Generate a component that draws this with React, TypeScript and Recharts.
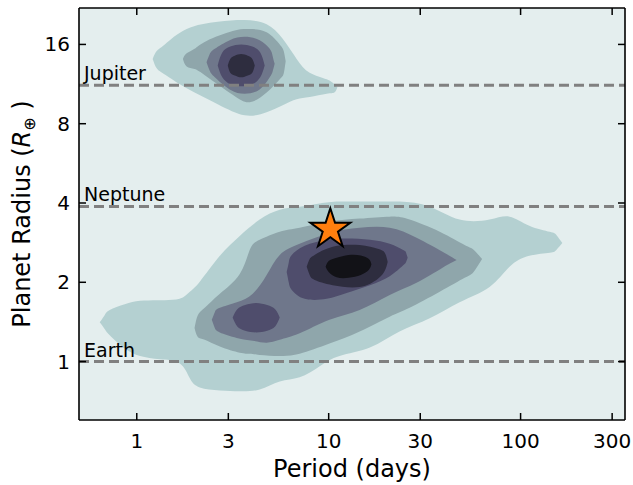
import { Area, CartesianGrid, ComposedChart, Line, ReferenceLine, XAxis, YAxis } from "recharts";

// contour bands, rows are [period, radius low, radius high]
const lightLow = [
	[0.641, 1.41, 1.41], [0.68, 1.33, 1.5], [0.723, 1.26, 1.57], [0.866, 1.12, 1.65],
	[1.04, 1.05, 1.7], [1.32, 1.02, 1.71], [1.67, 0.985, 1.73], [1.89, 0.864, 1.84],
	[2.13, 0.798, 2.01], [2.71, 0.777, 2.52], [3.44, 0.771, 3.0], [4.37, 0.784, 3.46],
	[5.56, 0.841, 3.77], [7.06, 0.871, 3.87], [8.98, 0.96, 3.98], [11.4, 1.05, 4.05],
	[16.4, 1.13, 4.05], [23.4, 1.3, 4.05], [33.6, 1.46, 3.87], [48.1, 1.68, 3.46],
	[68.9, 1.92, 3.46], [87.6, 2.29, 3.55], [111, 2.52, 3.28], [142, 2.59, 3.11],
	[154, 2.66, 3.02], [165, 2.82, 2.82],
];
const light2Low = [
	[2.0, 1.34, 1.34], [2.08, 1.24, 1.5], [2.26, 1.21, 1.6], [2.71, 1.14, 1.81], [3.44, 1.08, 2.15],
	[3.88, 1.07, 2.66], [4.37, 1.06, 2.9], [5.56, 1.05, 3.11], [7.06, 1.07, 3.22],
	[10.1, 1.17, 3.4], [14.5, 1.3, 3.49], [20.8, 1.48, 3.55], [26.4, 1.6, 3.46],
	[37.9, 1.84, 3.11], [51.1, 2.08, 2.77], [56.9, 2.19, 2.66], [63, 2.45, 2.45],
];
const midLow = [
	[2.46, 1.44, 1.44], [2.55, 1.34, 1.54], [2.71, 1.29, 1.6], [3.32, 1.23, 1.68], [4.02, 1.2, 1.81],
	[4.75, 1.18, 2.13], [5.56, 1.21, 2.54], [7.06, 1.28, 2.8], [10.1, 1.44, 3.08],
	[14.5, 1.57, 3.22], [20.8, 1.79, 3.22], [28.7, 1.99, 2.95], [39.2, 2.27, 2.61],
	[46.4, 2.43, 2.43],
];
const purpleLow = [
	[6.04, 2.19, 2.19], [6.2, 1.99, 2.39], [6.42, 1.87, 2.54], [7.5, 1.73, 2.75], [9.76, 1.73, 2.9],
	[12.4, 1.82, 2.93], [16.4, 1.95, 2.9], [20.8, 2.11, 2.8], [24.3, 2.31, 2.66],
	[25.2, 2.37, 2.61], [25.8, 2.48, 2.48],
];
const purpleSmall = [
	[3.16, 1.47, 1.47], [3.34, 1.36, 1.58], [3.67, 1.31, 1.64], [4.19, 1.29, 1.67],
	[4.78, 1.31, 1.64], [5.26, 1.36, 1.58], [5.56, 1.47, 1.47],
];
const darkLow = [
	[7.68, 2.29, 2.29], [7.96, 2.13, 2.45], [8.45, 2.04, 2.54], [10.5, 1.95, 2.73],
	[14.5, 1.92, 2.77], [18.0, 2.06, 2.68], [19.6, 2.21, 2.59], [20.3, 2.39, 2.39],
];
const coreLow = [
	[9.64, 2.29, 2.29], [10.0, 2.19, 2.41], [11.0, 2.09, 2.48], [12.7, 2.08, 2.54],
	[14.7, 2.13, 2.53], [16.2, 2.23, 2.45], [16.7, 2.34, 2.34],
];
const lightHigh = [
	[1.21, 14.1, 14.1], [1.27, 13.0, 15.1], [1.4, 12.3, 16.0], [1.82, 10.9, 18.3], [2.64, 9.48, 19.5],
	[3.65, 8.61, 19.8], [4.75, 8.84, 19.1], [5.76, 9.4, 16.8], [6.81, 9.9, 14.1],
	[7.96, 10.1, 12.5], [9.76, 10.4, 11.8], [10.7, 10.5, 11.3], [11.1, 11.0, 11.0],
];
const light2High = [
	[1.74, 14.1, 14.1], [1.82, 13.2, 14.8], [2.0, 12.9, 15.4], [2.31, 12.1, 16.5], [3.16, 10.3, 18.0],
	[3.88, 9.65, 18.3], [4.75, 10.5, 17.8], [5.56, 11.8, 16.0], [5.83, 12.4, 15.1], [5.97, 13.8, 13.8],
];
const midHigh = [
	[2.31, 13.7, 13.7], [2.4, 12.7, 14.7], [2.55, 12.0, 15.4], [3.05, 10.8, 16.6], [3.65, 10.4, 17.1],
	[4.37, 10.8, 16.6], [4.93, 12.0, 15.4], [5.1, 12.6, 14.5], [5.23, 13.5, 13.5],
];
const purpleHigh = [
	[2.64, 13.3, 13.3], [2.79, 12.0, 14.9], [3.07, 11.3, 15.7], [3.5, 11.1, 16.0],
	[4.0, 11.3, 15.7], [4.4, 12.0, 14.9], [4.64, 13.3, 13.3],
];
const darkHigh = [
	[2.98, 13.3, 13.3], [3.07, 12.5, 14.1], [3.24, 12.2, 14.5], [3.5, 12.0, 14.7],
	[3.79, 12.2, 14.5], [4.0, 12.5, 14.1], [4.12, 13.3, 13.3],
];

const levelColors = ["#b4d0d1", "#8fa6ab", "#6f778b", "#4f4d6c", "#2e2d3f", "#121217"];

const bands = [
	{ id: "l1-low", rows: lightLow, level: 0 },
	{ id: "l1-high", rows: lightHigh, level: 0 },
	{ id: "l2-low", rows: light2Low, level: 1 },
	{ id: "l2-high", rows: light2High, level: 1 },
	{ id: "l3-low", rows: midLow, level: 2 },
	{ id: "l3-high", rows: midHigh, level: 2 },
	{ id: "l4-low", rows: purpleLow, level: 3 },
	{ id: "l4-small", rows: purpleSmall, level: 3 },
	{ id: "l4-high", rows: purpleHigh, level: 3 },
	{ id: "l5-low", rows: darkLow, level: 4 },
	{ id: "l5-high", rows: darkHigh, level: 4 },
	{ id: "l6-low", rows: coreLow, level: 5 },
];

const planets = [
	{ name: "Jupiter", radius: 11.2 },
	{ name: "Neptune", radius: 3.88 },
	{ name: "Earth", radius: 1 },
];

const target = [{ p: 10.2, r: 3.18 }];

const xTicks = [1, 3, 10, 30, 100, 300];
const yTicks = [1, 2, 4, 8, 16];

const FONT = "DejaVu Sans";

function LineTag(props: any) {
	const vb = props.viewBox || {};
	const x = vb.x ?? vb.x1 ?? 0;
	const y = vb.y ?? vb.y1 ?? 0;
	return (
		<text x={x + 5} y={y - 5} fontSize={19} fontFamily={FONT} fill="#000">
			{props.text}
		</text>
	);
}

function Star(props: any) {
	const { cx, cy } = props;
	if (cx == null || cy == null) return null;
	const outer = 21;
	const inner = outer * 0.382;
	const pts: string[] = [];
	for (let i = 0; i < 10; i++) {
		const r = i % 2 === 0 ? outer : inner;
		const a = (Math.PI / 5) * i - Math.PI / 2;
		pts.push(`${cx + r * Math.cos(a)},${cy + r * Math.sin(a)}`);
	}
	return <polygon points={pts.join(" ")} fill="#ff7f0e" stroke="#000" strokeWidth={2} strokeLinejoin="miter" />;
}

const tickStroke = { stroke: "#000", strokeWidth: 1.5 };
const frame = { stroke: "#000", strokeWidth: 1.6 };

export default function App() {
	return (
		<div style={{ position: "absolute", left: 0, top: 0, fontFamily: FONT }}>
			<ComposedChart width={633} height={485} margin={{ top: 7, right: 7, left: 0, bottom: 0 }}>
				<CartesianGrid fill="#e4eeee" horizontal={false} vertical={false} />
				{bands.map((b) => (
					<Area
						key={b.id}
						name={b.id}
						xAxisId="b"
						yAxisId="l"
						data={b.rows.map(([p, lo, hi]) => ({ p, band: [lo, hi] }))}
						dataKey="band"
						type="natural"
						stroke="none"
						fill={levelColors[b.level]}
						fillOpacity={1}
						isAnimationActive={false}
						activeDot={false}
					/>
				))}
				<XAxis
					xAxisId="b"
					dataKey="p"
					type="number"
					scale="log"
					domain={[0.5, 350]}
					allowDataOverflow
					ticks={xTicks}
					interval={0}
					height={65}
					tickSize={0}
					tickMargin={0}
					tickLine={false}
					axisLine={frame}
					tick={(t: any) => (
						<g>
							<line x1={t.x} y1={t.y} x2={t.x} y2={t.y - 7} {...tickStroke} />
							<text x={t.x} y={t.y + 28} textAnchor="middle" fontSize={20} fontFamily={FONT} fill="#000">
								{t.payload.value}
							</text>
						</g>
					)}
					label={{ value: "Period (days)", position: "insideBottom", offset: 8, fontSize: 24, fontFamily: FONT, fill: "#000" }}
				/>
				<XAxis
					xAxisId="t"
					orientation="top"
					dataKey="p"
					type="number"
					scale="log"
					domain={[0.5, 350]}
					allowDataOverflow
					ticks={xTicks}
					interval={0}
					height={1}
					tickSize={0}
					tickMargin={0}
					tickLine={false}
					axisLine={frame}
					tick={(t: any) => <line x1={t.x} y1={t.y} x2={t.x} y2={t.y + 7} {...tickStroke} />}
				/>
				<YAxis
					yAxisId="l"
					type="number"
					scale="log"
					domain={[0.6, 22]}
					allowDataOverflow
					ticks={yTicks}
					interval={0}
					width={79}
					tickSize={0}
					tickMargin={0}
					tickLine={false}
					axisLine={frame}
					tick={(t: any) => (
						<g>
							<line x1={t.x} y1={t.y} x2={t.x + 7} y2={t.y} {...tickStroke} />
							<text x={t.x - 9} y={t.y + 7} textAnchor="end" fontSize={20} fontFamily={FONT} fill="#000">
								{t.payload.value}
							</text>
						</g>
					)}
					label={() => (
						<text x={30} y={214} transform="rotate(-90 30 214)" textAnchor="middle" fontSize={24} fontFamily={FONT} fill="#000">
							Planet Radius (<tspan fontStyle="italic">R</tspan>
							<tspan fontSize={16} dy={5}>⊕</tspan>
							<tspan dy={-5}> )</tspan>
						</text>
					)}
				/>
				<YAxis
					yAxisId="r"
					orientation="right"
					type="number"
					scale="log"
					domain={[0.6, 22]}
					allowDataOverflow
					ticks={yTicks}
					interval={0}
					width={1}
					tickSize={0}
					tickMargin={0}
					tickLine={false}
					axisLine={frame}
					tick={(t: any) => <line x1={t.x} y1={t.y} x2={t.x - 7} y2={t.y} {...tickStroke} />}
				/>
				{planets.map((pl) => (
					<ReferenceLine
						key={pl.name}
						xAxisId="b"
						yAxisId="l"
						y={pl.radius}
						stroke="#808080"
						strokeWidth={3}
						strokeDasharray="10 5"
						label={<LineTag text={pl.name} />}
					/>
				))}
				<Line
					xAxisId="b"
					yAxisId="l"
					data={target}
					dataKey="r"
					stroke="none"
					dot={(d: any) => <Star key="star" cx={d.cx} cy={d.cy} />}
					activeDot={false}
					isAnimationActive={false}
				/>
			</ComposedChart>
		</div>
	);
}
